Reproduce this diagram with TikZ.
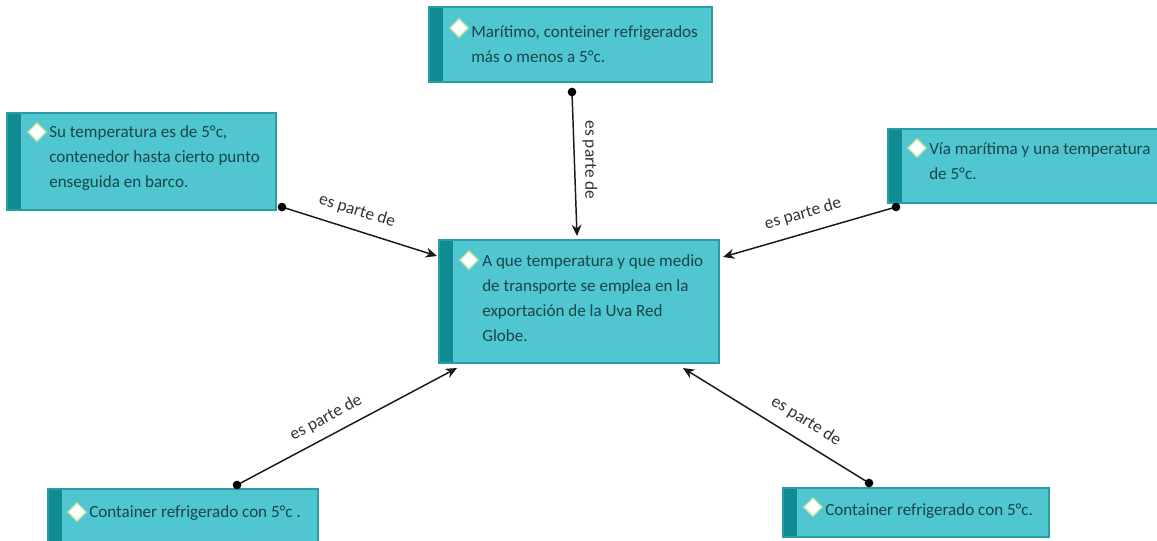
\documentclass[tikz,border=0pt]{standalone}
\usepackage{fontspec}
\setmainfont{Carlito}
\usetikzlibrary{shapes.geometric,fit,arrows.meta}
\definecolor{boxfill}{HTML}{4FC6D0}
\definecolor{boxstrip}{HTML}{0F8C94}
\definecolor{boxline}{HTML}{2C9BA4}
\definecolor{boxtext}{HTML}{1B454B}
\definecolor{diamline}{HTML}{C8E6A6}
\definecolor{lbl}{HTML}{333333}
\tikzset{
 box/.style={fill=boxfill, draw=boxline, line width=0.8pt, inner sep=0pt,
   path picture={\fill[boxstrip] (path picture bounding box.north west) rectangle ([xshift=10.5pt]path picture bounding box.south west);}},
 boxtxt/.style={anchor=base west, inner sep=0pt, align=left, text=boxtext, font=\fontsize{12.8}{18.75}\selectfont},
 diam/.style={diamond, fill=white, draw=diamline, line width=1pt, minimum width=14pt, minimum height=14pt, inner sep=0pt},
 conn/.style={line width=1.1pt, -{Stealth[length=8.5pt,width=7.5pt]}, black!90},
 dotc/.style={circle, fill=black, inner sep=0pt, minimum size=6.5pt},
 lab/.style={text=lbl, font=\fontsize{13}{15}\selectfont, inner sep=0pt}
}
\begin{document}
\begin{tikzpicture}[x=0.75pt,y=-0.75pt]
\useasboundingbox (0,0) rectangle (1157,540);
% boxes
\node[box, fit={(429,7) (712,82)}] (top) {};
\node[box, fit={(7,113) (276,210)}] (left) {};
\node[box, fit={(888,129) (1165,203)}] (right) {};
\node[box, fit={(439,240) (719,363)}] (center) {};
\node[box, fit={(48,489) (318,548)}] (bl) {};
\node[box, fit={(783,488) (1049,537)}] (br) {};
% diamonds
\node[diam] (dtop) at (459,28) {};
\node[diam] (dleft) at (37,132) {};
\node[diam] (dright) at (917,148) {};
\node[diam] (dcenter) at (469,260) {};
\node[diam] (dbl) at (77,512) {};
\node[diam] (dbr) at (813,507) {};
% texts (anchored at the baseline of their last line)
\node[boxtxt] (ttop) at (471,62) {Marítimo, conteiner refrigerados\\más o menos a 5°c.};
\node[boxtxt] (tleft) at (49,187) {Su temperatura es de 5°c,\\contenedor hasta cierto punto\\enseguida en barco.};
\node[boxtxt] (tright) at (929,179) {Vía marítima y una temperatura\\de 5°c.};
\node[boxtxt] (tcenter) at (482,341) {A que temperatura y que medio\\de transporte se emplea en la\\exportación de la Uva Red\\Globe.};
\node[boxtxt] (tbl) at (89,517) {Container refrigerado con 5°c .};
\node[boxtxt] (tbr) at (825,515) {Container refrigerado con 5°c.};
% connector ends
\coordinate (s1) at (572,92);  \coordinate (e1) at (577,236);
\coordinate (s2) at (282,207); \coordinate (e2) at (437,256);
\coordinate (s3) at (896,207); \coordinate (e3) at (723,257);
\coordinate (s4) at (237,485); \coordinate (e4) at (457,368);
\coordinate (s5) at (869,483); \coordinate (e5) at (683,368);
\draw[conn] (s1) -- (e1);
\draw[conn] (s2) -- (e2);
\draw[conn] (s3) -- (e3);
\draw[conn] (s4) -- (e4);
\draw[conn] (s5) -- (e5);
\node[dotc] (d1) at (s1) {};
\node[dotc] (d2) at (s2) {};
\node[dotc] (d3) at (s3) {};
\node[dotc] (d4) at (s4) {};
\node[dotc] (d5) at (s5) {};
% labels
\node[lab, rotate=-90] (l1) at (590,160) {es parte de};
\node[lab, rotate=-17] (l2) at (357,211) {es parte de};
\node[lab, rotate=16] (l3) at (803,214) {es parte de};
\node[lab, rotate=28] (l4) at (326,418) {es parte de};
\node[lab, rotate=-32] (l5) at (806,421) {es parte de};
\end{tikzpicture}
\end{document}
